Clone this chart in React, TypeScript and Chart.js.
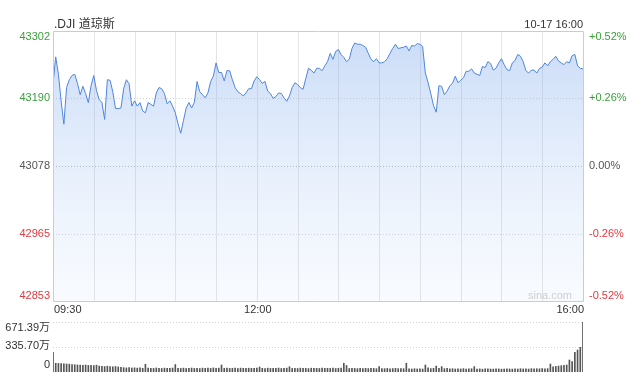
import React, { useEffect, useRef } from "react";
import { Chart, registerables } from "chart.js";

Chart.register(...registerables);

const FONT = "'Liberation Sans', Arial, 'Noto Sans CJK SC', sans-serif";

const title = ".DJI 道琼斯";
const dateLabel = "10-17 16:00";
const watermark = "sina.com";
const sessionMinutes = 390;
const stepMinutes = 2;

const timeTickMinutes = [0, 150, 390];
const timeTickLabels = ["09:30", "12:00", "16:00"];
const gridMinutes = [30, 60, 90, 120, 150, 180, 210, 240, 270, 300, 330, 360];

const priceTicks = [43302, 43190, 43078, 42965, 42853];
const percentTickLabels = ["+0.52%", "+0.26%", "0.00%", "-0.26%", "-0.52%"];
const previousClose = 43078;

const volumeTicks = [671.39, 335.7, 0];
const volumeTickLabels = ["671.39万", "335.70万", "0"];

const prices = [
  43213, 43259, 43230, 43185, 43147, 43208, 43221, 43228, 43230, 43215,
  43196, 43210, 43198, 43183, 43211, 43228, 43203, 43188, 43183, 43155,
  43221, 43220, 43201, 43173, 43173, 43174, 43206, 43221, 43214, 43177,
  43186, 43177, 43183, 43169, 43166, 43183, 43180, 43177, 43199, 43208,
  43206, 43198, 43181, 43186, 43177, 43166, 43148, 43132, 43153, 43174,
  43183, 43174, 43183, 43218, 43201, 43196, 43191, 43199, 43218, 43227,
  43249, 43233, 43233, 43219, 43236, 43236, 43221, 43208, 43201, 43198,
  43194, 43199, 43206, 43206, 43219, 43226, 43221, 43215, 43218, 43202,
  43198, 43190, 43193, 43199, 43198, 43191, 43185, 43194, 43208, 43216,
  43213, 43208, 43205, 43223, 43240, 43237, 43232, 43240, 43240, 43236,
  43244, 43251, 43265, 43255, 43268, 43271, 43263, 43258, 43251, 43255,
  43273, 43282, 43280, 43280, 43278, 43275, 43265, 43255, 43251, 43256,
  43249, 43249, 43251, 43256, 43265, 43273, 43280, 43273, 43274, 43275,
  43277, 43269, 43278, 43277, 43281, 43280, 43276, 43232, 43216, 43198,
  43178, 43167, 43211, 43210, 43196, 43202, 43211, 43215, 43227, 43216,
  43220, 43224, 43235, 43235, 43239, 43232, 43230, 43228, 43243, 43241,
  43251, 43248, 43237, 43240, 43249, 43256, 43246, 43238, 43236, 43249,
  43253, 43263, 43260, 43251, 43236, 43232, 43237, 43237, 43232, 43240,
  43242, 43249, 43244, 43251, 43255, 43260, 43252, 43249, 43246, 43251,
  43249, 43261, 43263, 43244, 43240, 43239,
];

const volumes = [
  265, 117, 115, 112, 110, 108, 105, 100, 98, 95,
  92, 90, 94, 88, 90, 86, 92, 80, 76, 74,
  78, 72, 70, 74, 68, 62, 58, 55, 60, 54,
  56, 52, 55, 50, 103, 52, 50, 48, 54, 50,
  47, 52, 49, 50, 53, 100, 50, 48, 52, 47,
  50, 53, 48, 50, 46, 52, 49, 51, 48, 55,
  50, 52, 94, 50, 52, 48, 50, 53, 47, 52,
  50, 48, 51, 49, 50, 53, 67, 50, 47, 52,
  48, 50, 49, 53, 47, 50, 52, 71, 48, 50,
  47, 52, 49, 50, 46, 51, 48, 50, 47, 52,
  49, 50, 48, 51, 47, 50, 52, 117, 87, 47,
  50, 48, 45, 50, 47, 49, 46, 50, 48, 45,
  74, 47, 45, 48, 44, 46, 49, 45, 47, 44,
  117, 42, 40, 44, 41, 43, 40, 94, 55, 45,
  50, 80, 50, 72, 45, 48, 42, 44, 40, 43,
  41, 45, 40, 42, 44, 72, 40, 42, 38, 41,
  43, 40, 39, 42, 41, 38, 40, 43, 41, 39,
  42, 40, 44, 41, 43, 40, 45, 42, 44, 43,
  46, 44, 45, 107, 70, 75, 80, 85, 90, 94,
  161, 139, 264, 295, 331, 671.39,
];

const GREEN = "#3a9f3a";
const RED = "#e0393e";
const NEUTRAL = "#555555";

function colorFor(v: number) {
  if (v > previousClose) return GREEN;
  if (v < previousClose) return RED;
  return NEUTRAL;
}

function drawText(ctx: CanvasRenderingContext2D, s: string, x: number, y: number, color: string, align: CanvasTextAlign, size = 11) {
  ctx.fillStyle = color;
  ctx.textAlign = align;
  ctx.textBaseline = "middle";
  ctx.font = `${size}px ${FONT}`;
  ctx.fillText(s, x, y);
}

const crisp = (v: number) => Math.round(v) + 0.5;

const pricePlugin = {
  id: "priceDecor",
  beforeDatasetsDraw(chart: any) {
    const { ctx, chartArea: a, scales } = chart;
    const xs = scales.x;
    const ys = scales.y;
    ctx.save();
    ctx.lineWidth = 1;
    // vertical grid
    ctx.strokeStyle = "#e4e4e4";
    for (const m of gridMinutes) {
      const px = crisp(xs.getPixelForValue(m));
      ctx.beginPath();
      ctx.moveTo(px, a.top);
      ctx.lineTo(px, a.bottom);
      ctx.stroke();
    }
    // horizontal dotted grid
    priceTicks.forEach((t, i) => {
      if (i === 0 || i === priceTicks.length - 1) return;
      const py = crisp(ys.getPixelForValue(t));
      ctx.strokeStyle = t === previousClose ? "#b5b5b5" : "#d2d2d2";
      ctx.setLineDash([1, 2]);
      ctx.beginPath();
      ctx.moveTo(a.left, py);
      ctx.lineTo(a.right, py);
      ctx.stroke();
    });
    ctx.setLineDash([]);
    ctx.restore();
  },
  afterDraw(chart: any) {
    const { ctx, chartArea: a, scales } = chart;
    const xs = scales.x;
    const ys = scales.y;
    ctx.save();
    ctx.lineWidth = 1;
    ctx.strokeStyle = "#cccccc";
    const top = crisp(ys.getPixelForValue(priceTicks[0]));
    const bottom = crisp(ys.getPixelForValue(priceTicks[priceTicks.length - 1]));
    const left = crisp(xs.getPixelForValue(0));
    const right = crisp(xs.getPixelForValue(sessionMinutes));
    ctx.beginPath();
    ctx.moveTo(left, top);
    ctx.lineTo(right, top);
    ctx.lineTo(right, bottom);
    ctx.lineTo(left, bottom);
    ctx.closePath();
    ctx.stroke();

    priceTicks.forEach((t, i) => {
      const off = i === 0 ? 5.5 : i === priceTicks.length - 1 ? -5.5 : 0;
      const py = ys.getPixelForValue(t) + off;
      const c = colorFor(t);
      drawText(ctx, String(t), a.left - 3, py, c, "right");
      drawText(ctx, percentTickLabels[i], a.right + 6, py, c, "left");
    });

    timeTickMinutes.forEach((m, i) => {
      const px = xs.getPixelForValue(m);
      const align: CanvasTextAlign = i === 0 ? "left" : i === timeTickMinutes.length - 1 ? "right" : "center";
      drawText(ctx, timeTickLabels[i], px + 1, a.bottom + 9, "#333333", align);
    });

    drawText(ctx, title, a.left + 1, 25, "#333333", "left", 12);
    drawText(ctx, dateLabel, a.right, 25, "#333333", "right", 11);
    drawText(ctx, watermark, a.right - 11, a.bottom - 5, "#cfcfcf", "right", 11);
    ctx.restore();
  },
};

const volumePlugin = {
  id: "volumeDecor",
  beforeDatasetsDraw(chart: any) {
    const { ctx, chartArea: a, scales } = chart;
    const ys = scales.y;
    ctx.save();
    ctx.lineWidth = 1;
    ctx.strokeStyle = "#cfcfcf";
    ctx.setLineDash([1, 2]);
    volumeTicks.forEach((t) => {
      if (t === 0) return;
      const py = crisp(ys.getPixelForValue(t));
      ctx.beginPath();
      ctx.moveTo(a.left, py);
      ctx.lineTo(a.right, py);
      ctx.stroke();
    });
    ctx.setLineDash([]);
    ctx.restore();
  },
  afterDraw(chart: any) {
    const { ctx, chartArea: a, scales } = chart;
    const ys = scales.y;
    ctx.save();
    const offs = [6, -1, -7];
    volumeTicks.forEach((t, i) => {
      drawText(ctx, volumeTickLabels[i], a.left - 3, ys.getPixelForValue(t) + offs[i], "#333333", "right");
    });
    ctx.restore();
  },
};

export default function App() {
  const priceRef = useRef<HTMLCanvasElement | null>(null);
  const volRef = useRef<HTMLCanvasElement | null>(null);

  useEffect(() => {
    if (!priceRef.current || !volRef.current) return;
    const priceChart = new Chart(priceRef.current, {
      type: "line",
      data: {
        datasets: [
          {
            data: prices.map((v, i) => ({ x: i * stepMinutes, y: v })),
            borderColor: "#4f85dc",
            borderWidth: 1,
            pointRadius: 0,
            tension: 0,
            fill: "start",
            backgroundColor: (c: any) => {
              const chart = c.chart;
              const a = chart.chartArea;
              if (!a) return "rgba(150,185,240,0.3)";
              const g = chart.ctx.createLinearGradient(0, a.top, 0, a.bottom);
              g.addColorStop(0, "rgba(120,165,235,0.40)");
              g.addColorStop(1, "rgba(200,220,250,0.12)");
              return g;
            },
          },
        ],
      },
      options: {
        animation: false,
        responsive: false,
        events: [],
        layout: { padding: { left: 53, right: 49, top: 31, bottom: 83 } },
        plugins: { legend: { display: false }, tooltip: { enabled: false } },
        scales: {
          x: { type: "linear", min: 0, max: sessionMinutes, display: false },
          y: { type: "linear", min: priceTicks[priceTicks.length - 1], max: priceTicks[0], display: false },
        },
      },
      plugins: [pricePlugin],
    } as any);

    const volChart = new Chart(volRef.current, {
      type: "bar",
      data: {
        datasets: [
          {
            data: volumes.map((v, i) => ({ x: i * stepMinutes, y: v })),
            backgroundColor: "#555555",
            barThickness: 1,
          },
        ],
      },
      options: {
        animation: false,
        responsive: false,
        events: [],
        layout: { padding: { left: 53, right: 49, top: 322, bottom: 12 } },
        plugins: { legend: { display: false }, tooltip: { enabled: false } },
        scales: {
          x: { type: "linear", min: 0, max: sessionMinutes, offset: false, display: false },
          y: { type: "linear", min: 0, max: volumeTicks[0], display: false },
        },
      },
      plugins: [volumePlugin],
    } as any);

    return () => {
      priceChart.destroy();
      volChart.destroy();
    };
  }, []);

  return (
    <div style={{ position: "absolute", left: 0, top: 0, width: 632, height: 384, background: "#fff" }}>
      <canvas ref={volRef} width={632} height={384} style={{ position: "absolute", left: 0, top: 0 }} />
      <canvas ref={priceRef} width={632} height={384} style={{ position: "absolute", left: 0, top: 0 }} />
    </div>
  );
}
